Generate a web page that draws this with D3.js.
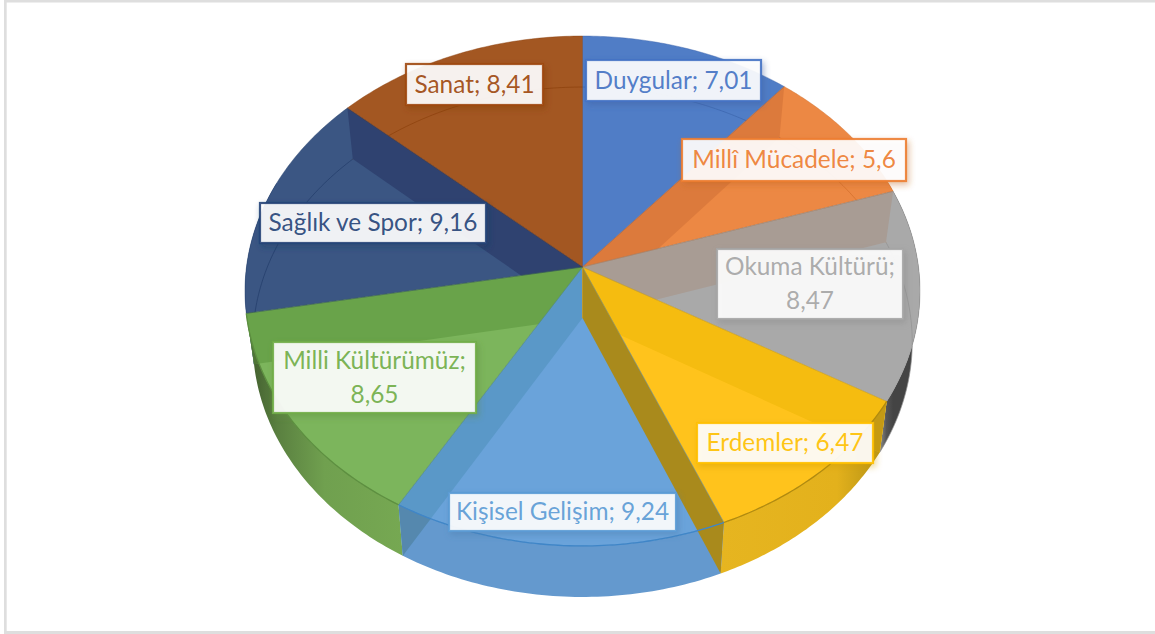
<!DOCTYPE html>
<html><head><meta charset="utf-8">
<style>html,body{margin:0;padding:0;background:#fff}svg{display:block}text{font-family:Lato,"Open Sans",sans-serif}</style>
<script src="https://cdn.jsdelivr.net/npm/d3@7/dist/d3.min.js"></script>
</head><body><svg id="c" width="1155" height="634"></svg>
<script>
const categories=["Duygular","Millî Mücadele","Okuma Kültürü","Erdemler","Kişisel Gelişim","Milli Kültürümüz","Sağlık ve Spor","Sanat"];
const values=[7.01,5.6,8.47,6.47,9.24,8.65,9.16,8.41];
const valueLabels=["7,01","5,6","8,47","6,47","9,24","8,65","9,16","8,41"];
const seriesColors=["#4472C4","#ED7D31","#A5A5A5","#FFC000","#5B9BD5","#70AD47","#264478","#9E480E"];
const topColors=["#507DC6","#EC8844","#A9A9A9","#FFC31C","#6AA3DA","#7CB55C","#3B5683","#A35722"];
const wallStops={2:[[0,"#8c8c8c"],[0.5,"#555"],[1,"#444"]],3:[[0,"#E6B520"],[0.7,"#E3B11C"],[1,"#B08F14"]],4:[[0,"#6499CE"],[1,"#6499CE"]],5:[[0,"#3f5a2c"],[0.2,"#5a8040"],[0.5,"#70A04F"],[1,"#76A852"]]};
// radial walls: boundary index (end of that slice) and its colour, back-to-front
const wallBoundary=[6,5,4,0,1,2,3];
const wallColors=["#2F4270","#69A34A","#5A98C8","#DC7A3C","#A89C94","#F5BC10","#A98A1C"];
// where a radial wall overlaps an outer wall: [boundary, slice, colour]
const overlaps=[[2,3,"#C49A14"],[4,4,"#5588AE"],[5,5,"#4f7536"]];
const labelLines=[1,1,2,1,1,2,1,1];
// layout: label boxes [x0,y0,x1,y1]
const labelBoxes=[[586,60,761,101],[682,139,906,181],[717,249,903,319],[697,423,873,463],[449,493,676,531],[273,342,476,413],[260,203,486,243],[406,64,543,105]];

const W=1155,H=634,cx=582.5,apexY=267,A=336,B=252.7,K=0.0941,SHIFT=51,SHRINK=0.977;
const svg=d3.select("#c");
const defs=svg.append("defs");
// picture frame: top, left and bottom edges only
const frame=[[[4,0],[W,0],[W,2.5],[6.7,2.5],[6.7,631],[W,631],[W,H],[4,H]]];
svg.append("path").attr("d",d3.line()(frame[0])+"Z").attr("fill","#dedede");

const arcs=d3.pie().sort(null).startAngle(0).endAngle(2*Math.PI)(values);
function P(t,r=1){const u=Math.sin(t)*r,v=Math.cos(t)*r,d=1+K*v;return [cx+A*u/d,apexY-B*v/d];}
function Q(t,r=1){const p=P(t,r);return [cx+(p[0]-cx)*SHRINK,p[1]+SHIFT];}
const line=d3.line();
const samples=(a,b,f)=>d3.range(0,61).map(i=>f(a+(b-a)*i/60));

// outer walls, front half
const front=arcs.map((d,i)=>({a:Math.max(d.startAngle,Math.PI/2-0.35),b:Math.min(d.endAngle,3*Math.PI/2+0.35),i})).filter(d=>d.b>d.a);
const wallPath=d=>line(samples(d.a,d.b,t=>P(t)).concat(samples(d.b,d.a,t=>Q(t))))+"Z";
front.forEach(d=>{
  const g=defs.append("linearGradient").attr("id","w"+d.i).attr("gradientUnits","userSpaceOnUse");
  const xs=[P(d.a)[0],P(d.b)[0],Q(d.a)[0],Q(d.b)[0]];
  g.attr("x1",d3.min(xs)).attr("x2",d3.max(xs)).attr("y1",0).attr("y2",0);
  (wallStops[d.i]||[[0,seriesColors[d.i]],[1,seriesColors[d.i]]]).forEach(s=>g.append("stop").attr("offset",s[0]).attr("stop-color",s[1]));
  defs.append("clipPath").attr("id","cw"+d.i).append("path").attr("d",wallPath(d));
});
svg.append("g").selectAll("path").data(front).join("path").attr("d",wallPath).attr("fill",d=>`url(#w${d.i})`);

// top faces
const wedge=d=>line([[cx,apexY],...samples(d.startAngle,d.endAngle,t=>P(t))])+"Z";
svg.append("g").selectAll("path").data(arcs).join("path")
  .attr("d",wedge).attr("fill",(d,i)=>topColors[i]);

// bottom rim seen through the top
svg.append("g").selectAll("path").data(arcs).join("path")
  .attr("d",d=>line(samples(d.startAngle,d.endAngle,t=>Q(t))))
  .attr("fill","none").attr("stroke",(d,i)=>d3.color(seriesColors[i]).darker(0.35)).attr("stroke-width",1).attr("opacity",d=>(d.startAngle>1.5&&d.endAngle<4.8)?0:0.7);

// radial walls
const band=b=>{const t=arcs[b].endAngle;return line([[cx,apexY],P(t),Q(t),[cx,apexY+SHIFT]])+"Z";};
svg.append("g").selectAll("path").data(wallBoundary).join("path")
  .attr("d",band).attr("fill",(b,i)=>wallColors[i]);
svg.append("g").selectAll("path").data(overlaps).join("path")
  .attr("d",o=>band(o[0])).attr("fill",o=>o[2]).attr("clip-path",o=>`url(#cw${o[1]})`);

// slice edges and rim lines
svg.append("g").selectAll("path").data(arcs).join("path")
  .attr("d",wedge).attr("fill","none").attr("stroke",(d,i)=>d3.color(seriesColors[i]).darker(0.4)).attr("stroke-width",0.8).attr("opacity",0.55);
svg.append("g").selectAll("path").data(arcs.slice(3,6)).join("path")
  .attr("d",d=>line(samples(d.startAngle,d.endAngle,t=>P(t)))).attr("fill","none")
  .attr("stroke",(d,i)=>["#B08A10","#3F86C8","#5d8f40"][i]).attr("stroke-width",1.3);

// labels
categories.forEach((c,i)=>{
  const f=defs.append("filter").attr("id","s"+i).attr("x","-20%").attr("y","-40%").attr("width","140%").attr("height","180%");
  f.append("feDropShadow").attr("dx",2).attr("dy",3).attr("stdDeviation",3).attr("flood-color",d3.color(seriesColors[i]).darker(0.6)).attr("flood-opacity",0.45);
});
const lab=svg.append("g").selectAll("g").data(categories).join("g");
lab.append("rect")
  .attr("x",(d,i)=>labelBoxes[i][0]).attr("y",(d,i)=>labelBoxes[i][1])
  .attr("width",(d,i)=>labelBoxes[i][2]-labelBoxes[i][0]).attr("height",(d,i)=>labelBoxes[i][3]-labelBoxes[i][1])
  .attr("fill","#fff").attr("fill-opacity",0.9).attr("stroke",(d,i)=>seriesColors[i]).attr("stroke-width",2.2).attr("stroke-opacity",0.9)
  .attr("filter",(d,i)=>`url(#s${i})`);
lab.each(function(d,i){
  const b=labelBoxes[i],x=(b[0]+b[2])/2,g=d3.select(this),fs=24.4;
  const lines=labelLines[i]===2?[d+";",valueLabels[i]]:[d+"; "+valueLabels[i]];
  const y0=(b[1]+b[3])/2-(lines.length-1)*17;
  lines.forEach((s,k)=>g.append("text").attr("x",x).attr("y",y0+k*34+8).attr("text-anchor","middle")
    .attr("font-size",fs).attr("fill",seriesColors[i]).attr("fill-opacity",0.92).text(s));
});
</script></body></html>
